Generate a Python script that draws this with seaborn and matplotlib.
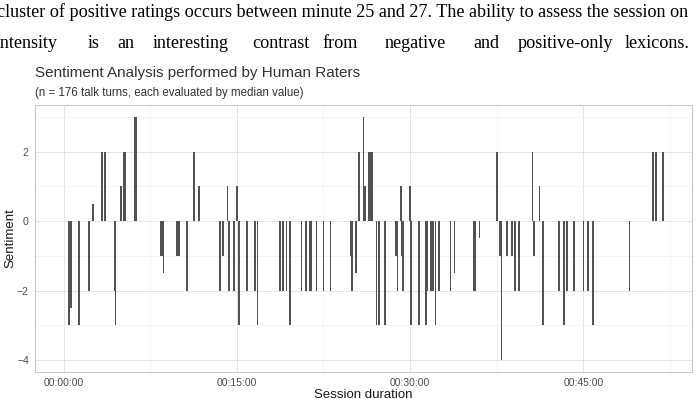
import numpy as np
import pandas as pd
import matplotlib
matplotlib.use("Agg")
import matplotlib.pyplot as plt
from matplotlib.ticker import FuncFormatter, MultipleLocator
import seaborn as sns

# talk turn start (minutes into session) and median sentiment
minutes = [0.48, 0.65, 1.34, 2.2, 2.55, 3.3, 3.6, 4.4, 4.5, 4.98, 5.2, 5.3, 6.2, 6.3,
           7.0, 7.6, 8.4, 8.55, 8.65, 9.85, 10.0, 10.7, 11.3, 11.7, 12.3, 13.55, 13.75,
           13.85, 14.2, 14.3, 14.75, 15.0, 15.2, 15.9, 16.6, 16.8, 17.5, 18.75, 19.0,
           19.3, 19.6, 20.0, 20.6, 21.0, 21.35, 21.45, 21.9, 22.5, 23.1, 23.7, 24.85,
           24.95, 25.3, 25.6, 25.96, 26.1, 26.4, 26.5, 26.7, 27.1, 27.3, 27.8, 28.8,
           28.9, 29.2, 29.3, 29.4, 30.0, 30.05, 30.8, 31.4, 31.5, 31.8, 32.0, 32.2,
           32.5, 33.5, 33.85, 34.3, 34.8, 35.2, 35.55, 35.65, 36.0, 36.5, 37.5, 37.75,
           37.85, 37.9, 38.4, 38.8, 39.05, 39.45, 40.6, 40.7, 41.2, 41.5, 42.0, 42.4,
           42.9, 43.3, 43.6, 44.2, 45.0, 45.4, 45.85, 47.0, 47.5, 48.0, 49.0, 51.0,
           51.3, 51.9]
sentiment = [-3, -2.5, -3, -2, 0.5, 2, 2, -2, -3, 1, 2, 2, 3, 3,
             0, 0, -1, -1, -1.5, -1, -1, -2, 2, 1, 0, -2, -1,
             -1, 1, -2, -2, 1, -3, -2, -2, -3, 0, -2, -2,
             -2, -3, 0, -2, -2, -2, -2, -2, -2, -2, 0, -1,
             -2, -1.5, 2, 3, 1, 2, 2, 2, -3, -3, -3, -1,
             -2, 1, -1, -2, 1, -3, -3, -3, -2, -2, -2, -3,
             -2, -2, -1.5, 0, 0, 0, -2, -2, -0.5, 0, 2, -1,
             -1, -4, -1, -1, -2, -2, 2, -1, 1, -3, 0, 0,
             -2, -3, -2, -2, -2, -2, -3, 0, 0, 0, -2, 2,
             2, 2]

title = "Sentiment Analysis performed by Human Raters"
subtitle = "(n = 176 talk turns, each evaluated by median value)"
x_label = "Session duration"
y_label = "Sentiment"
para_line1 = "cluster of positive ratings occurs between minute 25 and 27. The ability to assess the session on"
para_line2 = ["intensity", "is", "an", "interesting", "contrast", "from", "negative", "and",
              "positive-only", "lexicons."]

sns.set_theme(style="whitegrid")
plt.rcParams['font.family'] = ['Liberation Sans', 'DejaVu Sans']

W, H = 698, 399
fig = plt.figure(figsize=(W / 100, H / 100), dpi=100)
fig.patch.set_facecolor("white")

# panel
pl, pr, pt, pb = 35, 692, 105, 372
ax = fig.add_axes([pl / W, 1 - pb / H, (pr - pl) / W, (pb - pt) / H])

df = pd.DataFrame({"minute": minutes, "sentiment": sentiment})
min_gap = np.min(np.diff(np.unique(df["minute"])))
sns.barplot(data=df, x="minute", y="sentiment", native_scale=True, orient="x",
            errorbar=None, color="#525252", saturation=1, width=0.15 / min_gap,
            linewidth=0, ax=ax)

ax.set_xlim(-2.47, 54.4)
ax.set_ylim(-4.35, 3.35)
ax.xaxis.set_major_locator(MultipleLocator(15))
ax.xaxis.set_minor_locator(MultipleLocator(7.5))
ax.yaxis.set_major_locator(MultipleLocator(2))
ax.yaxis.set_minor_locator(MultipleLocator(1))


def fmt(m, pos):
    total = int(round(m * 60))
    return f"{total // 3600:02d}:{(total % 3600) // 60:02d}:{total % 60:02d}"


ax.xaxis.set_major_formatter(FuncFormatter(fmt))
ax.set_facecolor("white")
ax.grid(which="major", color="#e0e0e0", linewidth=0.6)
ax.grid(which="minor", color="#f0f0f0", linewidth=0.5)
ax.set_axisbelow(True)
for s in ax.spines.values():
    s.set_color("#c8c8c8")
    s.set_linewidth(0.8)
ax.tick_params(which="major", length=2.5, color="#c8c8c8", labelsize=7.5,
               labelcolor="#4d4d4d", pad=2)
ax.tick_params(which="minor", length=0)
ax.set_xlabel("")
ax.set_ylabel("")

# axis labels
fig.text(363 / W, 1 - 395 / H, x_label, ha="center", va="center", fontsize=9.5, color="#1a1a1a")
fig.text(10 / W, 1 - 238 / H, y_label, ha="center", va="center", rotation=90,
         fontsize=9.5, color="#1a1a1a")

# title / subtitle
fig.text(35 / W, 1 - 73 / H, title, ha="left", va="center", fontsize=11, color="#333333")
fig.text(35 / W, 1 - 93 / H, subtitle, ha="left", va="center", fontsize=8.3, color="#333333")

# paragraph text above the figure
fig.text(-3 / W, 1 - 12 / H, para_line1, ha="left", va="center", fontsize=13.1,
         family="Liberation Serif", color="black")
word_x = [-4, 88, 117, 153, 252, 322, 385, 473, 518, 625]
for wx, w in zip(word_x, para_line2):
    fig.text(wx / W, 1 - 44 / H, w, ha="left", va="center", fontsize=13.1,
             family="Liberation Serif", color="black")

fig.savefig("out.png", dpi=100)
